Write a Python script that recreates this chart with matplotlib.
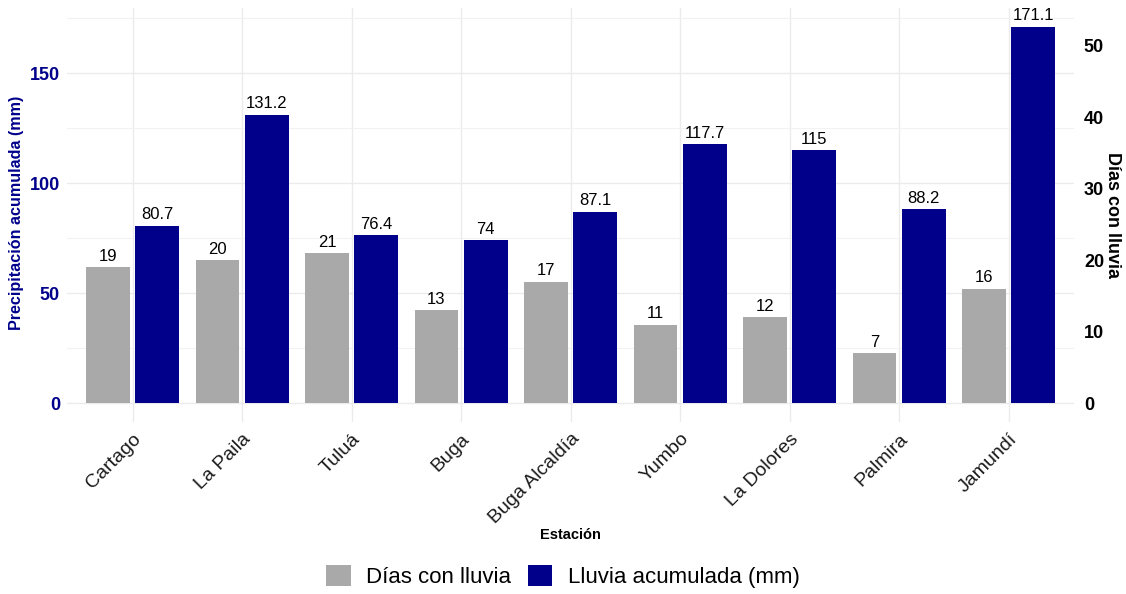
import matplotlib
matplotlib.use("Agg")
import matplotlib.pyplot as plt
import matplotlib.transforms as mtransforms
import numpy as np
from matplotlib.patches import Patch

plt.rcParams['font.family'] = ['Liberation Sans', 'DejaVu Sans']

estaciones = ['Cartago', 'La Paila', 'Tuluá', 'Buga', 'Buga Alcaldía',
              'Yumbo', 'La Dolores', 'Palmira', 'Jamundí']
dias_lluvia = [19, 20, 21, 13, 17, 11, 12, 7, 16]
lluvia_mm = [80.7, 131.2, 76.4, 74, 87.1, 117.7, 115, 88.2, 171.1]
factor = 3.25  # scaling between days and mm axes

gris = '#A9A9A9'
azul = '#00008B'

fig = plt.figure(figsize=(11.26, 5.94), dpi=100)
ax = fig.add_axes([0.0595, 0.2896, 0.8945, 0.697])

x = np.arange(len(estaciones))
w = 0.4
off = 0.225
dias_esc = [d * factor for d in dias_lluvia]
ax.bar(x - off, dias_esc, width=w, color=gris, zorder=3)
ax.bar(x + off, lluvia_mm, width=w, color=azul, zorder=3)

for xi, d, de in zip(x, dias_lluvia, dias_esc):
    ax.annotate(f'{d}', (xi - off, de), xytext=(0, 2.5), textcoords='offset points',
                ha='center', va='bottom', fontsize=12, color='black', zorder=4)
for xi, v in zip(x, lluvia_mm):
    ax.annotate(f'{v:g}', (xi + off, v), xytext=(0, 2.5), textcoords='offset points',
                ha='center', va='bottom', fontsize=12, color='black', zorder=4)

ymax = max(lluvia_mm)
ax.set_ylim(-0.05 * ymax, 1.05 * ymax)
ax.set_xlim(-0.6, len(estaciones) - 1 + 0.6)

ax.set_yticks([0, 50, 100, 150])
ax.set_yticks([25, 75, 125, 175], minor=True)
ax.set_xticks(x)
ax.set_xticklabels(estaciones, rotation=45, ha='right', va='top',
                   rotation_mode='anchor', fontsize=14, color='#1a1a1a')
shift = mtransforms.ScaledTranslation(10 / 100, 0, fig.dpi_scale_trans)
for lbl in ax.get_xticklabels():
    lbl.set_transform(lbl.get_transform() + shift)
ax.tick_params(axis='x', length=0, pad=6)
ax.tick_params(axis='y', which='both', length=0, pad=5)
for lbl in ax.get_yticklabels():
    lbl.set_fontsize(13)
    lbl.set_fontweight('bold')
    lbl.set_color(azul)

ax.grid(True, which='major', axis='both', color='#EBEBEB', linewidth=1.0, zorder=0)
ax.grid(True, which='minor', axis='y', color='#F2F2F2', linewidth=0.8, zorder=0)
for s in ax.spines.values():
    s.set_visible(False)

fig.text(17 / 1126, 1 - 213 / 594, 'Precipitación acumulada (mm)', fontsize=11.6,
         fontweight='bold', color=azul, rotation=90, ha='center', va='center')
fig.text(570 / 1126, 1 - 535 / 594, 'Estación', fontsize=10.5, fontweight='bold',
         color='black', ha='center', va='center')

sec = ax.secondary_yaxis('right', functions=(lambda y: y / factor, lambda d: d * factor))
sec.set_yticks([0, 10, 20, 30, 40, 50])
sec.tick_params(length=0, pad=7)
for lbl in sec.get_yticklabels():
    lbl.set_fontsize(13)
    lbl.set_fontweight('bold')
    lbl.set_color('black')
for s in sec.spines.values():
    s.set_visible(False)
fig.text(1112 / 1126, 1 - 215 / 594, 'Días con lluvia', fontsize=13, fontweight='bold',
         color='black', rotation=-90, ha='center', va='center')

handles = [Patch(facecolor=gris, label='Días con lluvia'),
           Patch(facecolor=azul, label='Lluvia acumulada (mm)')]
fig.legend(handles=handles, loc='center', bbox_to_anchor=(0.5, 0.029), ncol=2,
           frameon=False, fontsize=16, handlelength=1.1, handleheight=1.1,
           columnspacing=0.75, handletextpad=0.7)

fig.savefig('out.png', dpi=100)
